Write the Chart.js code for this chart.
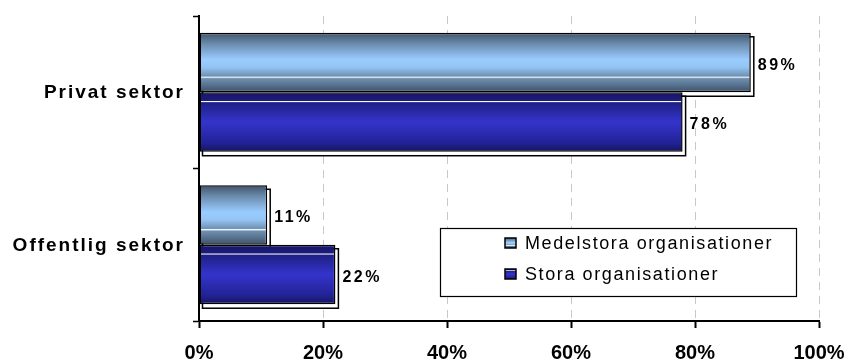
<!DOCTYPE html>
<html>
<head>
<meta charset="utf-8">
<script src="https://cdn.jsdelivr.net/npm/chart.js@4/dist/chart.umd.min.js"></script>
<style>
  html, body { margin: 0; padding: 0; background: #fff; }
  #wrap { width: 849px; height: 361px; }
</style>
</head>
<body>
<div id="wrap"><canvas id="myChart" width="849" height="361"></canvas></div>
<script>
const categories = ['Privat sektor', 'Offentlig sektor'];
const seriesNames = ['Medelstora organisationer', 'Stora organisationer'];
const medelstora = [89, 11];
const stora = [78, 22];
const xTicks = [0, 20, 40, 60, 80, 100];

// colour stops for the glossy bar fills (top to bottom)
const lightStops = [[0, '#3f536b'], [0.18, '#6a8aab'], [0.45, '#99ccff'], [0.58, '#94c4f4'], [0.73, '#6f90b2'], [0.745, '#ffffff'], [0.77, '#6f90b2'], [1, '#3d5068']];
const darkStops = [[0, '#16166a'], [0.14, '#1c1c7a'], [0.155, '#ffffff'], [0.175, '#1f1f86'], [0.5, '#3434cc'], [0.85, '#222296'], [1, '#14145e']];
const stopsFor = [lightStops, darkStops];

function makeGradient(ctx, top, bottom, stops) {
    const g = ctx.createLinearGradient(0, top, 0, bottom);
    stops.forEach(s => g.addColorStop(s[0], s[1]));
    return g;
}

const barLook = {
    id: 'barLook',
    beforeDatasetsDraw(chart) {
        const ctx = chart.ctx;
        chart.data.datasets.forEach((ds, i) => {
            chart.getDatasetMeta(i).data.forEach(bar => {
                const top = bar.y - bar.height / 2;
                const left = Math.min(bar.x, bar.base);
                const w = Math.abs(bar.x - bar.base);
                // offset outline behind each bar
                ctx.save();
                ctx.fillStyle = '#ffffff';
                ctx.strokeStyle = '#000000';
                ctx.lineWidth = 1.5;
                ctx.fillRect(left + 3, top + 4, w, bar.height);
                ctx.strokeRect(left + 3, top + 4, w, bar.height);
                ctx.restore();
                bar.options.backgroundColor = makeGradient(ctx, top, top + bar.height, stopsFor[i]);
            });
        });
    },
    afterDatasetsDraw(chart) {
        const ctx = chart.ctx;
        ctx.save();
        ctx.font = 'bold 16px "Liberation Sans", Arial, sans-serif';
        ctx.fillStyle = '#000';
        ctx.textBaseline = 'middle';
        ctx.textAlign = 'left';
        ctx.letterSpacing = '2.5px';
        chart.data.datasets.forEach((ds, i) => {
            chart.getDatasetMeta(i).data.forEach((bar, j) => {
                ctx.fillText(ds.data[j] + '%', bar.x + 7, bar.y + 3);
            });
        });
        ctx.restore();
    }
};

// category names on the left, spaced out a little
const catLabels = {
    id: 'catLabels',
    afterDraw(chart) {
        const ctx = chart.ctx;
        const y = chart.scales.y;
        ctx.save();
        ctx.font = 'bold 19px "Liberation Sans", Arial, sans-serif';
        ctx.fillStyle = '#000';
        ctx.textBaseline = 'middle';
        ctx.textAlign = 'left';
        ctx.letterSpacing = '2px';
        chart.data.labels.forEach((lab, i) => {
            const w = ctx.measureText(lab).width - 2;
            ctx.fillText(lab, 183 - w, y.getPixelForValue(i) + 1);
        });
        ctx.restore();
    }
};

const boxLegend = {
    id: 'boxLegend',
    afterDraw(chart) {
        const ctx = chart.ctx;
        const bx = 440, by = 228, bw = 356, bh = 68;
        ctx.save();
        ctx.fillStyle = '#fff';
        ctx.fillRect(bx, by, bw, bh);
        ctx.strokeStyle = '#000';
        ctx.lineWidth = 1.2;
        ctx.strokeRect(bx + 0.5, by + 0.5, bw, bh);
        ctx.font = '18px "Liberation Sans", Arial, sans-serif';
        ctx.letterSpacing = '1.6px';
        ctx.textBaseline = 'middle';
        chart.data.datasets.forEach((ds, i) => {
            const cy = by + 15 + i * 31;
            ctx.fillStyle = makeGradient(ctx, cy - 5, cy + 5, stopsFor[i]);
            ctx.fillRect(505, cy - 5, 11, 10);
            ctx.strokeStyle = '#000';
            ctx.lineWidth = 1.5;
            ctx.strokeRect(505, cy - 5, 11, 10);
            ctx.fillStyle = '#000';
            ctx.fillText(ds.label, 525, cy + 1);
        });
        ctx.restore();
    }
};

const canvas = document.getElementById('myChart');
new Chart(canvas.getContext('2d'), {
    type: 'bar',
    data: {
        labels: categories,
        datasets: [
            { label: seriesNames[0], data: medelstora, borderColor: '#000', backgroundColor: c => lightStops[2][1] },
            { label: seriesNames[1], data: stora, borderColor: '#000', backgroundColor: c => darkStops[4][1] }
        ]
    },
    options: {
        indexAxis: 'y',
        responsive: false,
        animation: false,
        layout: { padding: { top: 16, right: 30, left: 0, bottom: 0 } },
        datasets: {
            bar: {
                categoryPercentage: 0.78,
                barPercentage: 1,
                borderWidth: 1.5,
                borderSkipped: false
            }
        },
        plugins: {
            legend: { display: false },
            tooltip: { enabled: false }
        },
        scales: {
            x: {
                min: 0,
                max: 100,
                afterBuildTicks(scale) {
                    scale.ticks = xTicks.map(v => ({ value: v }));
                },
                afterFit(scale) {
                    scale.height = 40;
                    scale.paddingLeft = 0;
                    scale.paddingRight = 0;
                },
                grid: {
                    color: '#c8c8c8',
                    lineWidth: 1,
                    tickColor: '#000',
                    tickLength: 7,
                    tickWidth: 2
                },
                border: { color: '#000', width: 2, dash: [8, 6] },
                ticks: {
                    padding: 13,
                    color: '#000',
                    font: { family: '"Liberation Sans", Arial', size: 20, weight: 'bold' },
                    callback: v => v + '%'
                }
            },
            y: {
                afterFit(scale) { scale.width = 199; },
                grid: {
                    drawOnChartArea: false,
                    tickColor: '#000',
                    tickLength: 6,
                    tickWidth: 1.5
                },
                border: { color: '#000', width: 2 },
                ticks: { display: false }
            }
        }
    },
    plugins: [barLook, catLabels, boxLegend]
});
</script>
</body>
</html>
